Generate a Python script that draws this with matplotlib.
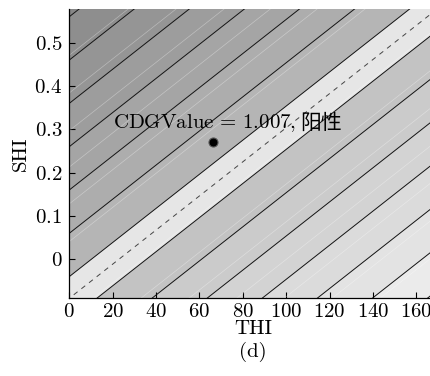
import numpy as np
import matplotlib
matplotlib.use("Agg")
import matplotlib.pyplot as plt
from matplotlib.ticker import FuncFormatter

plt.rcParams["mathtext.fontset"] = "cm"
plt.rcParams["font.family"] = ["cmr10", "DejaVu Serif"]
plt.rcParams["axes.formatter.use_mathtext"] = True

# index surface: g = SHI - THI / thi_scale, shaded in bands of 0.1
thi_scale = 254.0
boundary = -0.09  # dashed decision line
levels = [-0.84, -0.74, -0.64, -0.54, -0.44, -0.34, -0.24, -0.14,
          -0.04, 0.06, 0.16, 0.26, 0.36, 0.46, 0.56, 0.66]
band_grays = ["#f0f0f0", "#ebebeb", "#e3e3e3", "#dbdbdb", "#d3d3d3",
              "#cbcbcb", "#c3c3c3", "#e6e6e6", "#b5b5b5", "#adadad",
              "#a5a5a5", "#9d9d9d", "#959595", "#8e8e8e", "#878787"]
seam_levels = [-0.654, -0.567, -0.48, -0.394, -0.307, -0.22, -0.133,
               0.041, 0.128, 0.213, 0.297, 0.384, 0.471]

sample_thi = 66.4
sample_shi = 0.2716
sample_label = r"$\mathrm{CDGValue}\, =\, 1.007,$"
sample_tag = "阳性"

x_ticks = [0, 20, 40, 60, 80, 100, 120, 140, 160]
y_ticks = [0, 0.1, 0.2, 0.3, 0.4, 0.5]
x_lim = (0, 170)
y_lim = (-0.0887, 0.5778)

W, H = 431, 376
fig = plt.figure(figsize=(W / 100, H / 100), dpi=100)
ax = fig.add_axes([69.3 / W, (H - 297.7) / H, (438 - 69.3) / W, 288.7 / H])

thi = np.linspace(-5, 180, 300)
shi = np.linspace(-0.2, 0.7, 300)
T, S = np.meshgrid(thi, shi)
G = S - T / thi_scale

ax.contourf(T, S, G, levels=levels, colors=band_grays, antialiased=True)
ax.contour(T, S, G, levels=seam_levels, colors="white", linewidths=0.5,
           alpha=0.35, linestyles="solid")
ax.contour(T, S, G, levels=levels[1:-1], colors="#111111", linewidths=0.7,
           linestyles="solid")
ax.contour(T, S, G, levels=[boundary], colors="#444444", linewidths=0.7,
           linestyles=[(0, (5, 5))])

ax.plot(sample_thi, sample_shi, "o", color="k", ms=6.5, mec="#555555", mew=0.8)

t1 = ax.text(20.3, 0.3025, sample_label, fontsize=15, va="baseline")
ax.annotate(sample_tag, xy=(1, 0), xycoords=t1, xytext=(3, 0),
            textcoords="offset points", va="bottom", fontsize=15,
            fontweight="light", family=["Noto Sans CJK SC"])

ax.set_xlim(*x_lim)
ax.set_ylim(*y_lim)
ax.set_xticks(x_ticks)
ax.set_yticks(y_ticks)
fmt = FuncFormatter(lambda v, p: f"${v:g}$")
ax.xaxis.set_major_formatter(fmt)
ax.yaxis.set_major_formatter(fmt)
ax.tick_params(direction="in", length=4, width=0.8, labelsize=15, pad=5)
ax.tick_params(axis="x", pad=4)
for side in ("top", "right"):
    ax.spines[side].set_visible(False)
for side in ("left", "bottom"):
    ax.spines[side].set_linewidth(0.9)

ax.set_xlabel("THI", fontsize=15)
ax.xaxis.set_label_coords(0.5, -0.077)
ax.set_ylabel("SHI", fontsize=15, labelpad=3)
fig.text(253 / W, 1 - 352 / H, "(d)", fontsize=15, ha="center", va="center")

fig.savefig("out.png", dpi=100)
